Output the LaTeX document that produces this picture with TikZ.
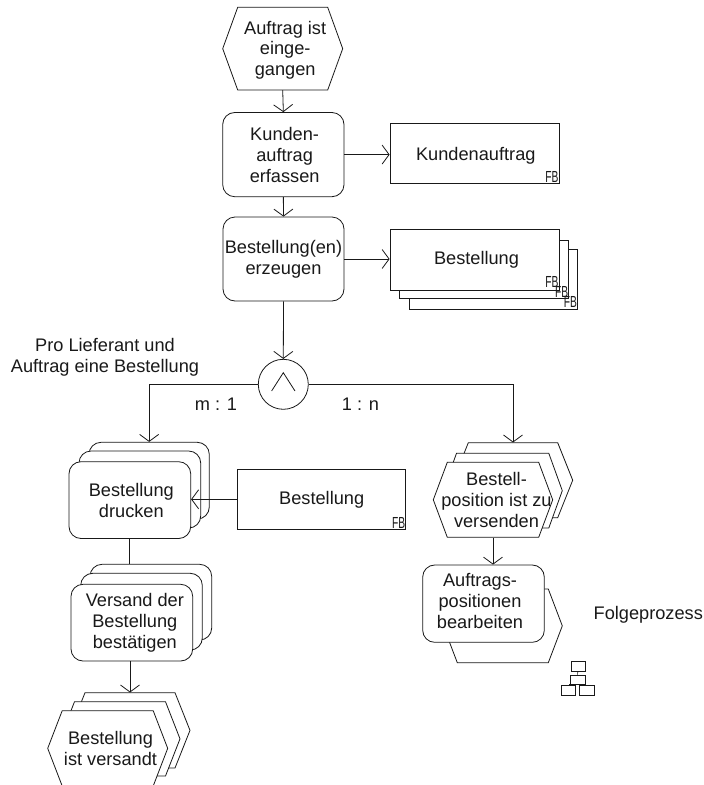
\documentclass[tikz,border=0pt]{standalone}
\usepackage{fontspec}
\usepackage{graphicx}
\setmainfont{Liberation Sans}
\usetikzlibrary{arrows.meta,calc}
\tikzset{
  linework/.style={draw=black!90,line width=0.8pt},
  txt/.style={font=\fontsize{18.2}{20.8}\selectfont,align=center,inner sep=0pt,text=black!90},
  hexnode/.style={inner sep=0pt},
  procbox/.style={linework,fill=white,rounded corners=12pt,inner sep=0pt},
  databox/.style={linework,fill=white,inner sep=0pt},
  gatenode/.style={linework,fill=white,circle,inner sep=0pt,minimum size=50pt},
  fbtxt/.style={inner sep=0pt,anchor=south east,font=\fontsize{16}{16}\selectfont,text=black!90},
  iconbox/.style={draw=black!90,line width=0.6pt,inner sep=0pt,fill=white},
  link/.style={linework,-{Straight Barb[length=7pt,width=19pt,line width=0.8pt]}},
  plainlink/.style={linework}
}
\newcommand\hexev[7]{%
  \filldraw[linework,fill=white] (#2+#6,#3) -- (#4-#6,#3) -- (#4,{(#3+#5)/2}) -- (#4-#6,#5) -- (#2+#6,#5) -- (#2,{(#3+#5)/2}) -- cycle;
  \node[hexnode,minimum width={(#4-#2)*1pt},minimum height={(#5-#3)*1pt},#7] (#1) at ({(#2+#4)/2},{(#3+#5)/2}) {};}
\newcommand\boxat[7]{% style name l t r b options
  \node[#1,minimum width={(#5-#3)*1pt},minimum height={(#6-#4)*1pt},#7] (#2) at ({(#3+#5)/2},{(#4+#6)/2}) {};}
\newcommand\fbmark{\scalebox{.64}[1]{FB}}
\begin{document}
\begin{tikzpicture}[x=1pt,y=-1pt]
\useasboundingbox (0,0) rectangle (704,785);
\clip (0,0) rectangle (704,785);
% top chain
\hexev{start}{222.7}{7.3}{342.7}{90}{15}{label={[txt,xshift=2.5pt,yshift=-1.5pt]center:{Auftrag ist\\einge-\\gangen}}}
\boxat{procbox}{erfassen}{222.7}{112.5}{344}{196.7}{label={[txt,xshift=1.3pt,yshift=-0.5pt]center:{Kunden-\\auftrag\\erfassen}}}
\boxat{procbox}{erzeugen}{223}{217}{344}{301}{label={[txt]center:{Bestellung(en)\\erzeugen}}}
\boxat{databox}{kauftrag}{390}{123}{559}{183}{label={[txt,xshift=1.3pt,yshift=-3pt]center:{Kundenauftrag}}}
\boxat{databox}{best3}{409}{249}{577}{309}{}
\boxat{databox}{best2}{399}{240}{568.7}{298}{}
\boxat{databox}{best1}{390}{229}{559}{290}{label={[txt,xshift=2pt,yshift=-0.5pt]center:{Bestellung}}}
\node[fbtxt,xshift=-0.8pt,yshift=1.2pt] (fbk) at (kauftrag.south east) {\fbmark};
\node[fbtxt,xshift=-0.8pt,yshift=3pt] (fb1) at (best1.south east) {\fbmark};
\node[fbtxt,xshift=-0.8pt,yshift=1.2pt] (fb2) at (best2.south east) {\fbmark};
\node[fbtxt,xshift=-0.3pt,yshift=2pt] (fb3) at (best3.south east) {\fbmark};
% gate
\node[gatenode] (gate) at (283.3,384.3) {};
\draw[linework] ($(gate.center)+(-11.7,6.7)$) -- ($(gate.center)+(0,-11.6)$) -- ($(gate.center)+(11.7,6.7)$);
\node[txt] (note) at (105,357) {Pro Lieferant und\\Auftrag eine Bestellung};
\node[txt] (mone) at (216,404.5) {m : 1};
\node[txt] (onen) at (360.5,404.5) {1 : n};
% left branch
\boxat{procbox}{dr3}{89}{442.3}{209.3}{519}{}
\boxat{procbox}{dr2}{79}{451}{200.7}{528}{}
\boxat{procbox}{dr1}{69}{461.7}{190.7}{538.5}{label={[txt,xshift=1.5pt]center:{Bestellung\\drucken}}}
\boxat{databox}{bestd}{237.7}{469.3}{405.7}{529.3}{label={[txt]center:{Bestellung}}}
\node[fbtxt,xshift=-0.8pt,yshift=1.2pt] (fbd) at (bestd.south east) {\fbmark};
\boxat{procbox}{ve3}{90}{564.3}{211.7}{640}{}
\boxat{procbox}{ve2}{80.7}{573.3}{202.3}{650}{}
\boxat{procbox}{ve1}{71}{584.3}{192.7}{661}{label={[txt,xshift=3pt]center:{Versand der\\Bestellung\\bestätigen}}}
\hexev{vs3}{70}{692.7}{190}{768}{15}{}
\hexev{vs2}{60}{701.7}{180}{776}{14.5}{}
\hexev{vs1}{47.7}{710.7}{167.7}{786}{14.5}{label={[txt,xshift=2.8pt,yshift=-0.5pt]center:{Bestellung\\ist versandt}}}
% right branch
\hexev{rh3}{453.3}{442.7}{572.7}{517.7}{15}{}
\hexev{rh2}{443}{453.3}{562.3}{528}{13.5}{}
\hexev{rh1}{433.3}{462.3}{552.7}{537.3}{14}{label={[txt,xshift=3.5pt]center:{Bestell-\\position ist zu\\versenden}}}
\hexev{follow}{443.3}{589}{562.3}{662.7}{14}{}
\boxat{procbox}{bearb}{422.7}{565}{544.3}{642.3}{label={[txt,xshift=-3.5pt,yshift=2.5pt]center:{Auftrags-\\positionen\\bearbeiten}}}
\node[txt] (fp) at (648.3,615) {Folgeprozess};
% process icon
\node[iconbox,minimum width=14pt,minimum height=10pt] (ic1) at (577.8,666.7) {};
\node[iconbox,minimum width=15pt,minimum height=9pt] (ic2) at (577.5,679.5) {};
\node[iconbox,minimum width=13.5pt,minimum height=9.5pt] (ic3) at (568.3,690.3) {};
\node[iconbox,minimum width=14.5pt,minimum height=9.5pt] (ic4) at (586.6,690.3) {};
\draw[line width=0.6pt,draw=black!90] (ic1.south) -- (ic2.north);
\draw[line width=0.6pt,draw=black!90] (ic2.south west) -- (ic2.south west |- ic3.north);
\draw[line width=0.6pt,draw=black!90] (ic2.south east) -- (ic2.south east |- ic4.north);
% connectors
\draw[link] (start.south) -- (erfassen.north);
\draw[link] (erfassen.south) -- (erzeugen.north);
\draw[link] (erfassen.east) -- (erfassen.east -| kauftrag.west);
\draw[link] (erzeugen.east) -- (erzeugen.east -| best1.west);
\draw[link] (erzeugen.south) -- (gate.north);
\draw[link] (gate.west) -| (dr3.north);
\draw[link] (gate.east) -| (rh3.north);
\draw[link] (bestd.west) -- (bestd.west -| dr1.east);
\draw[plainlink] (dr1.south) -- (dr1.south |- ve3.north);
\draw[link] (vs3.north |- ve1.south) -- (vs3.north);
\draw[link] (rh1.south) -- (bearb.north -| rh1.south);
\end{tikzpicture}
\end{document}
